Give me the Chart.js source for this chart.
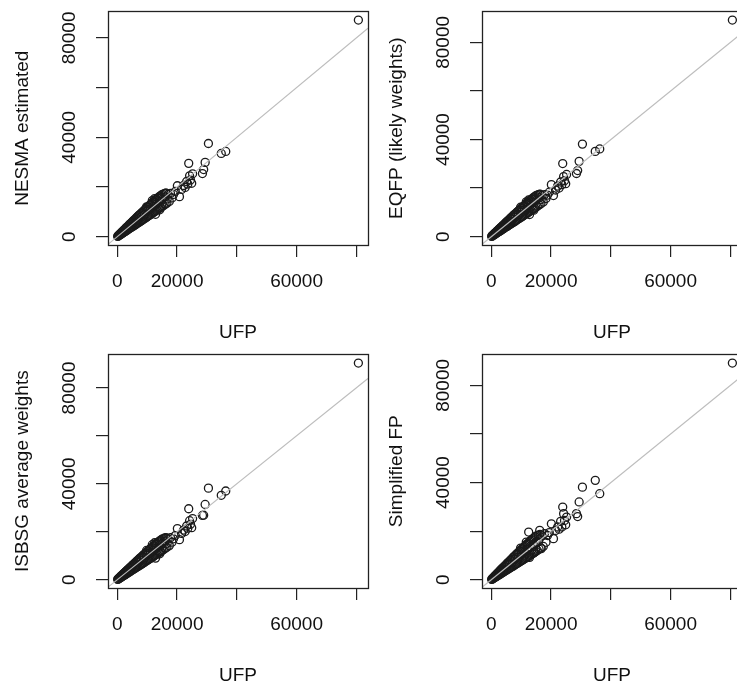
<!DOCTYPE html>
<html>
<head>
<meta charset="utf-8">
<title>UFP comparisons</title>
<script src="https://cdn.jsdelivr.net/npm/chart.js@4.4.0/dist/chart.umd.min.js"></script>
<style>
  html, body { margin: 0; padding: 0; background: #fff; overflow: hidden; }
  #wrap { position: relative; width: 737px; height: 687px; overflow: hidden; }
  canvas { position: absolute; }
</style>
</head>
<body>
<div id="wrap">
  <canvas id="p1" width="374" height="344" style="left:0;top:0"></canvas>
  <canvas id="p2" width="374" height="344" style="left:374px;top:0"></canvas>
  <canvas id="p3" width="374" height="344" style="left:0;top:343px"></canvas>
  <canvas id="p4" width="374" height="344" style="left:374px;top:343px"></canvas>
</div>
<script>
// unadjusted function points, shared x of every panel
const ufp = [
  100, 250, 400, 550, 700, 850, 1000, 1150, 1300, 1450,
  1600, 1750, 1900, 2050, 2200, 2350, 2500, 2650, 2800, 2950,
  3100, 3300, 3500, 3700, 3900, 4100, 4300, 4500, 4700, 4900,
  5100, 5300, 5500, 5700, 5900, 6100, 6300, 6500, 6700, 6900,
  7100, 7300, 7500, 7700, 7900, 8100, 8300, 8500, 8700, 8900,
  9100, 9300, 9500, 9700, 9900, 10100, 10300, 10500, 10700, 10900,
  11100, 11300, 11500, 11700, 11900, 12100, 12300, 12500, 12700, 12900,
  13100, 13300, 13500, 13700, 13900, 14100, 14300, 14500, 14700, 14900,
  15100, 15400, 15700, 16000, 16300, 16600, 17000, 17400,
  1000, 3000, 5000, 7000, 9000, 11000, 13000, 15000,
  17800, 18300, 18800, 19400, 20100, 20800, 21500, 22200, 22700, 23200,
  23600, 23900, 24200, 24500, 24900, 25200, 28500, 28900, 29400, 30500,
  34800, 36300, 80700,
  11700, 12500, 9800, 12800, 14200, 16200, 16700,
  2000, 4000, 6000, 8000, 10000, 12000, 14000, 16000
];

const nesma = [
  120, 180, 520, 430, 880, 680, 1250, 900, 1600, 1150,
  1950, 1400, 2300, 1650, 2650, 1850, 3000, 2100, 3400, 2350,
  3750, 2600, 4200, 2950, 4700, 3250, 5150, 3600, 5600, 3900,
  6100, 4200, 6550, 4550, 7000, 4850, 7500, 5200, 7950, 5500,
  8450, 5800, 8900, 6150, 9350, 6450, 9800, 6800, 10250, 7100,
  10700, 7450, 11100, 7750, 11600, 8100, 12000, 8400, 12500, 8750,
  12900, 9050, 13400, 9400, 13800, 9700, 14200, 10050, 14700, 10400,
  15100, 10700, 15500, 11050, 15900, 11400, 16300, 11700, 16700, 12100,
  17000, 12500, 17300, 13000, 17500, 13500, 17000, 14200,
  1000, 3000, 5000, 7100, 9000, 11000, 13200, 15000,
  17400, 15600, 17000, 18200, 20500, 16100, 19000, 20600, 19800, 22200,
  21200, 29500, 24500, 22800, 21500, 25300, 25400, 27000, 29900, 37500,
  33500, 34300, 87200,
  14500, 15300, 12000, 9000, 10800, 17500, 15200,
  2050, 4000, 6100, 8000, 10100, 12000, 14100, 16000
];

const eqfp = [
  110, 200, 500, 450, 860, 700, 1230, 920, 1580, 1170,
  1930, 1420, 2280, 1670, 2620, 1870, 2980, 2120, 3370, 2370,
  3720, 2630, 4170, 2970, 4660, 3280, 5120, 3620, 5570, 3930,
  6070, 4230, 6520, 4570, 6960, 4880, 7460, 5230, 7910, 5530,
  8410, 5830, 8860, 6180, 9300, 6480, 9760, 6830, 10200, 7130,
  10650, 7480, 11050, 7780, 11550, 8130, 11950, 8430, 12450, 8780,
  12850, 9080, 13350, 9430, 13750, 9730, 14150, 10080, 14650, 10430,
  15050, 10730, 15450, 11080, 15850, 11430, 16250, 11730, 16650, 12130,
  16950, 12530, 17250, 13030, 17450, 13530, 16950, 14230,
  1000, 3000, 5000, 7050, 9000, 11000, 13150, 15000,
  17300, 15700, 17100, 18300, 21400, 16900, 19200, 20800, 20000, 22500,
  21400, 30100, 24700, 23000, 21800, 25600, 26000, 27200, 31000, 38100,
  35100, 36100, 89200,
  14300, 15100, 12100, 9100, 10900, 17400, 15300,
  2000, 4050, 6050, 8050, 10050, 12050, 14050, 16050
];

const isbsg = [
  130, 190, 510, 440, 870, 690, 1240, 910, 1590, 1160,
  1940, 1410, 2290, 1660, 2640, 1860, 2990, 2110, 3390, 2360,
  3740, 2610, 4190, 2960, 4680, 3260, 5140, 3610, 5590, 3910,
  6090, 4210, 6540, 4560, 6980, 4860, 7480, 5210, 7930, 5510,
  8430, 5810, 8880, 6160, 9320, 6460, 9780, 6810, 10230, 7110,
  10680, 7460, 11080, 7760, 11580, 8110, 11980, 8410, 12480, 8760,
  12880, 9060, 13380, 9410, 13780, 9710, 14180, 10060, 14680, 10410,
  15080, 10710, 15480, 11060, 15880, 11410, 16280, 11710, 16680, 12110,
  16980, 12510, 17280, 13010, 17480, 13510, 16980, 14210,
  1000, 3050, 5050, 7100, 9050, 11050, 13200, 15050,
  17500, 15650, 17050, 18400, 21300, 16700, 19300, 20700, 20100, 22400,
  21500, 29600, 24600, 23100, 21700, 25500, 26800, 26900, 31400, 38200,
  35200, 37000, 90400,
  14600, 15400, 12200, 9000, 10800, 17500, 15200,
  2050, 4050, 6100, 8050, 10100, 12050, 14100, 16050
];

const sfp = [
  140, 210, 540, 420, 920, 660, 1320, 880, 1690, 1120,
  2060, 1360, 2430, 1600, 2800, 1800, 3170, 2040, 3600, 2280,
  3980, 2520, 4450, 2850, 4980, 3150, 5460, 3480, 5930, 3780,
  6460, 4070, 6940, 4400, 7400, 4690, 7930, 5020, 8400, 5310,
  8950, 5600, 9420, 5940, 9880, 6230, 10380, 6560, 10850, 6850,
  11330, 7200, 11750, 7480, 12280, 7820, 12700, 8100, 13230, 8450,
  13650, 8730, 14180, 9060, 14600, 9350, 15020, 9700, 15550, 10030,
  15970, 10330, 16400, 10660, 16820, 11000, 17250, 11290, 17680, 11670,
  18000, 12050, 18300, 12550, 18600, 13050, 18000, 13700,
  1050, 3100, 5150, 7300, 9300, 11400, 13600, 15500,
  19000, 15400, 18200, 19400, 23000, 16900, 20300, 21700, 20800, 24000,
  21700, 29900, 27200, 24400, 22600, 25800, 27200, 26000, 32000, 38100,
  40900, 35400, 89200,
  15500, 19600, 13000, 9200, 11000, 20300, 12800,
  2150, 4200, 6300, 8400, 10500, 12500, 14600, 16700
];

const tickValues = [0, 20000, 40000, 60000, 80000];
const xTickLabels = ['0', '20000', '', '60000', ''];
const yTickLabels = ['0', '', '40000', '', '80000'];
const xTitle = 'UFP';

const panels = [
  { id: 'p1', title: 'NESMA estimated', values: nesma },
  { id: 'p2', title: 'EQFP (likely weights)', values: eqfp },
  { id: 'p3', title: 'ISBSG average weights', values: isbsg },
  { id: 'p4', title: 'Simplified FP', values: sfp }
];

Chart.defaults.font.family = '"Liberation Sans", Arial, Helvetica, sans-serif';
Chart.defaults.font.size = 19;
Chart.defaults.color = '#111';

// same as R: data range widened by 4% each side
function extendRange(vals) {
  const lo = Math.min.apply(null, vals);
  const hi = Math.max.apply(null, vals);
  const pad = (hi - lo) * 0.04;
  return [lo - pad, hi + pad];
}

const boxPlugin = {
  id: 'box',
  afterDraw: function(chart) {
    const a = chart.chartArea;
    const ctx = chart.ctx;
    ctx.save();
    ctx.strokeStyle = '#222';
    ctx.lineWidth = 1.3;
    ctx.strokeRect(Math.round(a.left) + 0.5, Math.round(a.top) + 0.5,
      Math.round(a.right - a.left), Math.round(a.bottom - a.top));
    ctx.restore();
  }
};

function setTicks(scale) {
  scale.ticks = tickValues.map(function(v) { return { value: v }; });
}

panels.forEach(function(p) {
  const xr = extendRange(ufp);
  const yr = extendRange(p.values);
  const pts = ufp.map(function(u, i) { return { x: u, y: p.values[i] }; });

  new Chart(document.getElementById(p.id), {
    type: 'scatter',
    data: {
      datasets: [
        {
          type: 'line',
          data: [{ x: xr[0], y: xr[0] }, { x: xr[1], y: xr[1] }],
          borderColor: '#bdbdbd',
          borderWidth: 1.2,
          pointRadius: 0,
          fill: false
        },
        {
          data: pts,
          pointRadius: 4,
          pointBorderWidth: 1.3,
          pointBorderColor: '#1a1a1a',
          pointBackgroundColor: 'rgba(0,0,0,0)'
        }
      ]
    },
    options: {
      responsive: false,
      animation: false,
      events: [],
      layout: { padding: { top: 11, right: 6, left: 0, bottom: 0 } },
      plugins: { legend: { display: false }, tooltip: { enabled: false } },
      scales: {
        x: {
          type: 'linear',
          position: 'bottom',
          min: xr[0],
          max: xr[1],
          afterBuildTicks: setTicks,
          afterFit: function(s) { s.height = 99; },
          grid: { drawOnChartArea: false, drawTicks: true, tickLength: 12, color: '#222', lineWidth: 1.2 },
          border: { display: false },
          ticks: {
            padding: 13,
            maxRotation: 0,
            autoSkip: false,
            callback: function(v) { return xTickLabels[tickValues.indexOf(v)]; }
          },
          title: { display: true, text: xTitle, padding: 0 }
        },
        y: {
          type: 'linear',
          position: 'left',
          min: yr[0],
          max: yr[1],
          afterBuildTicks: setTicks,
          afterFit: function(s) { s.width = 108; },
          grid: { drawOnChartArea: false, drawTicks: true, tickLength: 12, color: '#222', lineWidth: 1.2 },
          border: { display: false },
          ticks: {
            padding: 0,
            minRotation: 90,
            maxRotation: 90,
            crossAlign: 'center',
            autoSkip: false,
            callback: function(v) { return yTickLabels[tickValues.indexOf(v)]; }
          },
          title: { display: true, text: p.title, padding: { top: 11.6, bottom: 0 } }
        }
      }
    },
    plugins: [boxPlugin]
  });
});
</script>
</body>
</html>
